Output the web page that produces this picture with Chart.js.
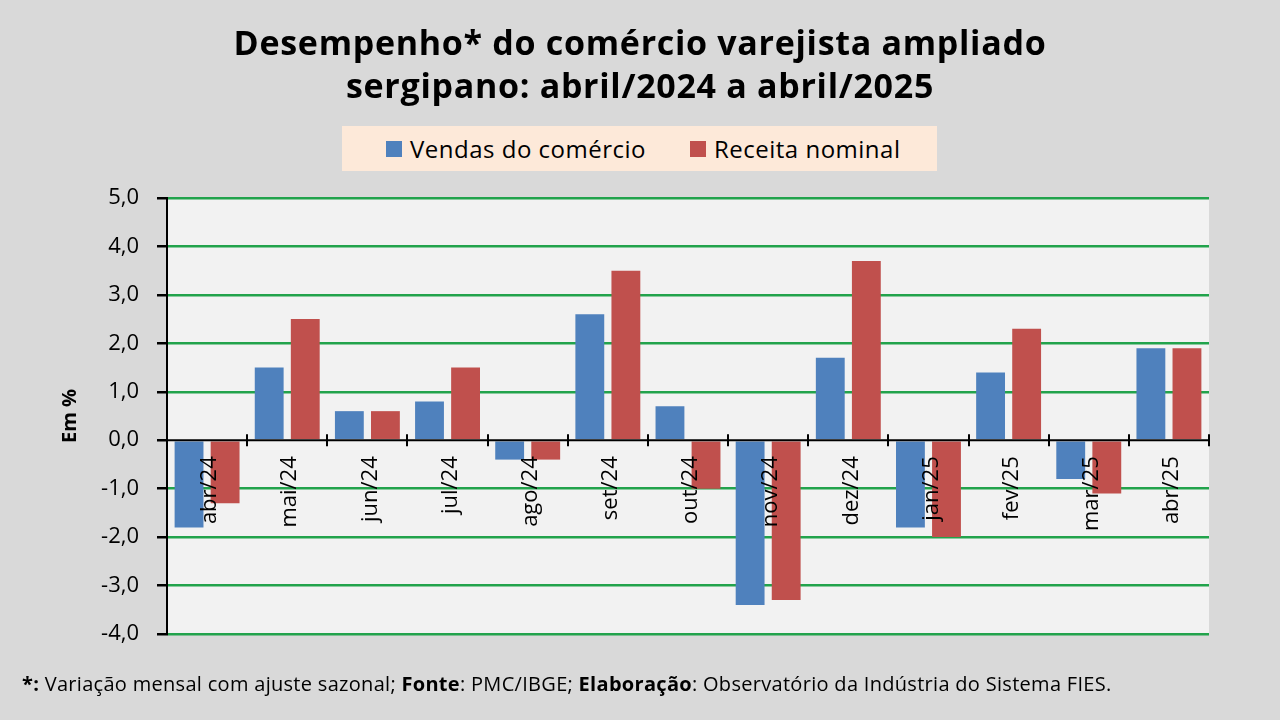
<!DOCTYPE html>
<html>
<head>
<meta charset="utf-8">
<script src="https://cdn.jsdelivr.net/npm/chart.js@4"></script>
<style>
  html, body { margin: 0; padding: 0; background: #d9d9d9; }
  #wrap { position: relative; width: 1280px; height: 720px; overflow: hidden; font-family: 'Open Sans', sans-serif; }
  #chartBox { position: absolute; left: 0; top: 0; width: 1280px; height: 720px; }
  .title { position: absolute; left: 0; width: 1280px; text-align: center; font-weight: bold; font-size: 34px; letter-spacing: 0.7px; color: #000; line-height: 43px; top: 21px; }
  .legend { position: absolute; left: 342px; top: 126px; width: 551px; height: 45px; padding-left: 44px; background: #fde9d9; display: flex; align-items: center; font-size: 24px; letter-spacing: 0.5px; color: #000; }
  .legend span.sw { display: inline-block; width: 16px; height: 16px; margin-right: 8px; }
  .legend .item { display: flex; align-items: center; }
  .footer { position: absolute; left: 22px; top: 670px; font-size: 20px; letter-spacing: 0.3px; color: #000; white-space: nowrap; }
</style>
</head>
<body>
<div id="wrap">
  <div id="chartBox"><canvas id="chart"></canvas></div>
  <div class="title">Desempenho* do comércio varejista ampliado<br>sergipano: abril/2024 a abril/2025</div>
  <div class="legend">
    <div class="item"><span class="sw" style="background:#4f81bd"></span>Vendas do comércio</div>
    <div class="item" style="margin-left:44px"><span class="sw" style="background:#c0504d"></span>Receita nominal</div>
  </div>
  <div class="footer"><b>*:</b> Variação mensal com ajuste sazonal; <b>Fonte</b>: PMC/IBGE; <b>Elaboração</b>: Observatório da Indústria do Sistema FIES.</div>
</div>
<script>
const months = ['abr/24', 'mai/24', 'jun/24', 'jul/24', 'ago/24', 'set/24', 'out/24',
  'nov/24', 'dez/24', 'jan/25', 'fev/25', 'mar/25', 'abr/25'];
const vendas = [-1.8, 1.5, 0.6, 0.8, -0.4, 2.6, 0.7, -3.4, 1.7, -1.8, 1.4, -0.8, 1.9];
const receita = [-1.3, 2.5, 0.6, 1.5, -0.4, 3.5, -1.0, -3.3, 3.7, -2.0, 2.3, -1.1, 1.9];
const yMin = -4;
const yMax = 5;

const fontFamily = "'Open Sans', sans-serif";
const gridGreen = '#22a34c';

// plot background + x tick marks and labels sitting on the zero line
const plotDecor = {
  id: 'plotDecor',
  beforeDraw(chart) {
    const { ctx, chartArea } = chart;
    ctx.save();
    ctx.fillStyle = '#f2f2f2';
    ctx.fillRect(chartArea.left, chartArea.top, chartArea.right - chartArea.left, chartArea.bottom - chartArea.top);
    ctx.restore();
  },
  afterDatasetsDraw(chart) {
    const { ctx, chartArea, scales } = chart;
    const x = scales.x;
    const y0 = scales.y.getPixelForValue(0);
    ctx.save();
    // zero line
    ctx.strokeStyle = '#000';
    ctx.lineWidth = 2;
    ctx.beginPath();
    ctx.moveTo(chartArea.left, y0);
    ctx.lineTo(chartArea.right, y0);
    ctx.stroke();
    // tick marks between categories
    const step = (chartArea.right - chartArea.left) / months.length;
    for (let i = 1; i <= months.length; i++) {
      const px = Math.round(x.getPixelForValue(i - 1) + step / 2);
      ctx.beginPath();
      ctx.moveTo(px, y0 - 6);
      ctx.lineTo(px, y0 + 6);
      ctx.stroke();
    }
    // rotated month labels
    ctx.fillStyle = '#000';
    ctx.font = '22px ' + fontFamily;
    ctx.textAlign = 'right';
    ctx.textBaseline = 'middle';
    months.forEach((m, i) => {
      ctx.save();
      ctx.translate(x.getPixelForValue(i) + 3, y0 + 16);
      ctx.rotate(-Math.PI / 2);
      ctx.fillText(m, 0, 0);
      ctx.restore();
    });
    ctx.restore();
  }
};

new Chart(document.getElementById('chart'), {
  type: 'bar',
  data: {
    labels: months,
    datasets: [{
      label: 'Vendas do comércio',
      data: vendas,
      backgroundColor: '#4f81bd',
      barPercentage: 0.8,
      categoryPercentage: 0.9
    }, {
      label: 'Receita nominal',
      data: receita,
      backgroundColor: '#c0504d',
      barPercentage: 0.8,
      categoryPercentage: 0.9
    }]
  },
  options: {
    responsive: true,
    maintainAspectRatio: false,
    animation: false,
    layout: { padding: { top: 198, right: 71, bottom: 86, left: 0 } },
    plugins: {
      legend: { display: false },
      title: { display: false },
      tooltip: { enabled: false }
    },
    scales: {
      x: {
        grid: { display: false, drawTicks: false },
        border: { display: false },
        ticks: { display: false }
      },
      y: {
        min: yMin,
        max: yMax,
        afterFit(scale) { scale.width = 167; },
        ticks: {
          stepSize: 1,
          color: '#000',
          padding: 18,
          font: { family: fontFamily, size: 22 },
          callback: v => v.toFixed(1).replace('.', ',')
        },
        grid: {
          color: ctx => ctx.tick && ctx.tick.value === 0 ? 'rgba(0,0,0,0)' : gridGreen,
          lineWidth: 2.5,
          tickColor: '#000',
          tickLength: 10
        },
        border: { display: true, color: '#000', width: 2 },
        title: {
          display: true,
          text: 'Em %',
          color: '#000',
          padding: { top: 58, bottom: 0 },
          font: { family: fontFamily, size: 20, weight: 'bold' }
        }
      }
    }
  },
  plugins: [plotDecor]
});
</script>
</body>
</html>
